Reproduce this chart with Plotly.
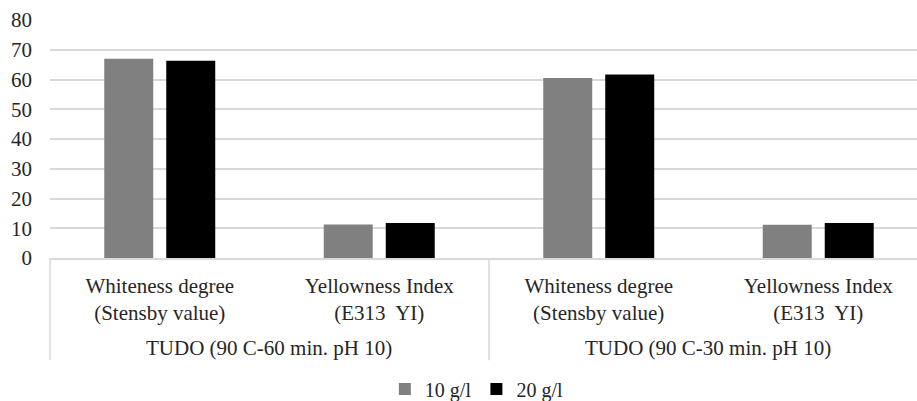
import plotly.graph_objects as go

# Outer grouping (treatment condition) and inner categories (measured property)
groups = ["TUDO (90 C-60 min. pH 10)", "TUDO (90 C-30 min. pH 10)"]
properties = ["Whiteness degree<br>(Stensby value)", "Yellowness Index<br>(E313  YI)"]

# Inner category labels in drawing order, one per bar cluster
category_labels = [p for g in groups for p in properties]

# Measured values for each dosage
dose_10 = [67.0, 11.3, 60.5, 11.2]
dose_20 = [66.3, 11.8, 61.7, 11.8]

series_names = ["10 g/l", "20 g/l"]
series_colors = ["#808080", "#000000"]

y_ticks = [0, 10, 20, 30, 40, 50, 60, 70, 80]

FONT = "Liberation Serif"
TEXT_COLOR = "#262626"
GRID = "#d9d9d9"
FS = 21

positions = list(range(len(category_labels)))
x_range = [-0.5, 3.45]

fig = go.Figure()
for name, vals, color in zip(series_names, [dose_10, dose_20], series_colors):
    fig.add_trace(go.Bar(
        x=positions,
        y=vals,
        name=name,
        marker=dict(color=color, line=dict(width=0)),
    ))

# Outer group labels centred under their inner categories, with divider lines
n_inner = len(properties)
span = x_range[1] - x_range[0]
for gi, g in enumerate(groups):
    members = positions[gi * n_inner:(gi + 1) * n_inner]
    fig.add_annotation(
        x=sum(members) / len(members), xref="x",
        y=-0.377, yref="paper", yanchor="middle",
        text=g, showarrow=False,
        font=dict(family=FONT, size=FS, color=TEXT_COLOR),
    )

boundaries = [positions[0] - 0.5] + [positions[gi * n_inner] - 0.5 for gi in range(1, len(groups))] + [positions[-1] + 0.5]
for b in boundaries:
    xp = (b - x_range[0]) / span
    if xp > 1:
        continue
    fig.add_shape(
        type="line", xref="paper", yref="paper",
        x0=xp, x1=xp, y0=0, y1=-0.43,
        line=dict(color=GRID, width=1.5),
    )

fig.update_layout(
    width=917,
    height=401,
    margin=dict(l=50, r=0, t=20, b=142.5),
    paper_bgcolor="white",
    plot_bgcolor="white",
    barmode="group",
    bargap=0.435,
    bargroupgap=0.21,
    font=dict(family=FONT, size=FS, color=TEXT_COLOR),
    showlegend=True,
    legend=dict(
        orientation="h",
        xref="container", x=0.52, xanchor="center",
        yref="container", y=0.03, yanchor="middle",
        font=dict(family=FONT, size=20, color=TEXT_COLOR),
        traceorder="normal",
        itemwidth=30,
    ),
)

fig.update_xaxes(
    range=x_range,
    tickvals=positions,
    ticktext=category_labels,
    showgrid=False,
    zeroline=False,
    showline=True,
    linecolor=GRID,
    linewidth=1.5,
    ticks="",
    ticklabelstandoff=8,
    tickfont=dict(family=FONT, size=FS, color=TEXT_COLOR),
)

fig.update_yaxes(
    range=[0, 80],
    tickvals=y_ticks,
    showgrid=True,
    gridcolor=GRID,
    gridwidth=1.5,
    zeroline=False,
    showline=False,
    ticks="",
    ticklabelstandoff=17,
    tickfont=dict(family=FONT, size=FS, color=TEXT_COLOR),
)

fig.write_html("out.html")
